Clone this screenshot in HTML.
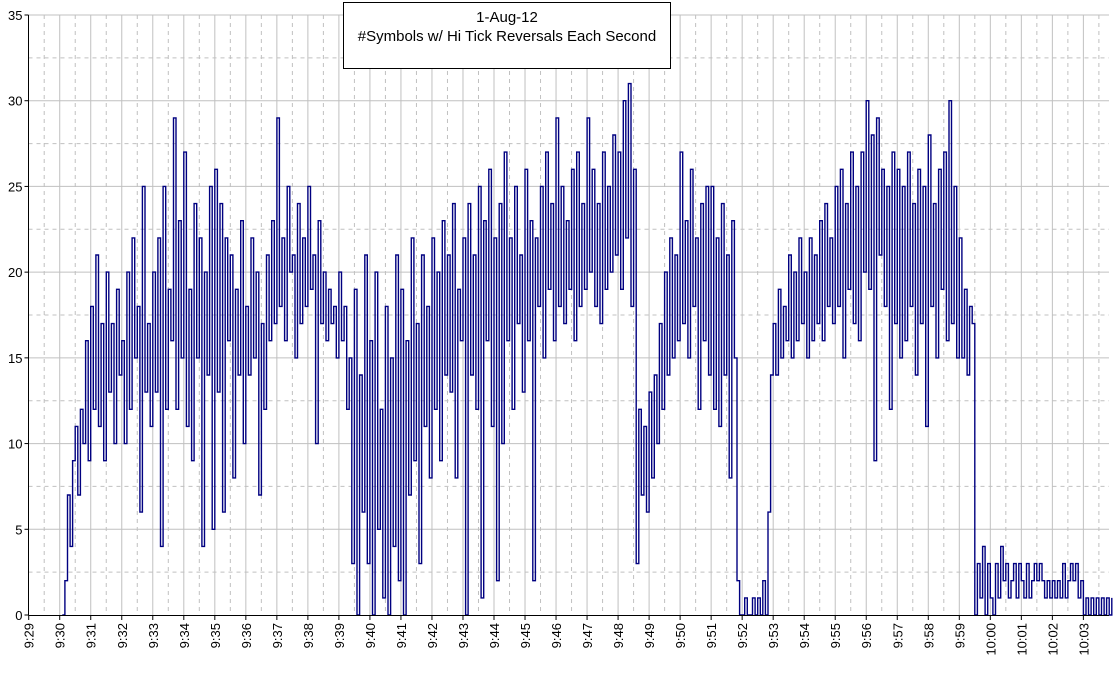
<!DOCTYPE html>
<html><head><meta charset="utf-8"><style>
body{margin:0;background:#fff;}
svg{display:block;font-family:"Liberation Sans",sans-serif;}
</style></head><body>
<svg id="chart" width="1116" height="675" viewBox="0 0 1116 675">
<g id="grid"></g>
<g id="series"></g>
<g id="axes"></g>
<g>
<rect x="343.5" y="2.5" width="327" height="66" fill="#fff" stroke="#000"/>
<text x="507" y="22" text-anchor="middle" font-size="15">1-Aug-12</text>
<text x="507" y="41" text-anchor="middle" font-size="15">#Symbols w/ Hi Tick Reversals Each Second</text>
</g>
</svg>
<script>
// values every 5 seconds starting at 9:30:00
const startMinute = 1; // minutes after 9:29
const stepSeconds = 5;
const values = [
null,0,2,7,4,9,11,7,12,10,16,9,
18,12,21,11,17,9,20,13,17,10,19,14,
16,10,20,12,22,15,18,6,25,13,17,11,
20,13,22,4,25,12,19,16,29,12,23,15,
27,11,19,9,24,15,22,4,20,14,25,5,
26,13,24,6,22,16,21,8,19,14,23,10,
18,14,22,15,20,7,17,12,21,16,23,17,
29,18,22,16,25,20,21,15,24,17,22,18,
25,19,21,10,23,17,20,16,19,17,18,15,
20,16,18,12,15,3,19,0,14,6,21,3,
16,0,20,5,12,1,18,0,15,4,21,2,
19,0,16,7,22,9,17,3,21,11,18,8,
22,12,20,9,23,14,21,13,24,8,19,16,
22,0,24,14,21,12,25,1,23,16,26,11,
22,2,24,10,27,16,22,12,25,17,21,13,
26,16,23,2,22,18,25,15,27,19,24,16,
29,18,25,17,23,19,26,16,27,18,24,19,
29,20,26,18,24,17,27,19,25,20,28,21,
27,19,30,22,31,18,26,3,12,7,11,6,
13,8,14,10,17,12,20,14,22,15,21,16,
27,17,23,15,26,18,22,12,24,16,25,14,
25,12,22,11,24,14,21,8,23,15,2,0,
0,1,0,0,1,0,1,0,2,0,6,14,
17,14,19,15,18,16,21,15,20,16,22,17,
20,15,22,16,21,17,23,16,24,18,22,17,
25,18,26,15,24,19,27,17,25,16,27,20,
30,19,28,9,29,21,26,18,25,12,27,17,
26,15,25,16,27,18,24,14,26,17,25,11,
28,18,24,15,26,19,27,16,30,17,25,15,
22,15,19,14,18,17,0,3,1,4,0,3,
1,0,3,1,4,2,3,1,2,3,1,3,
2,1,3,1,2,3,2,3,2,1,2,1,
2,1,2,1,3,1,2,3,2,3,1,2,
0,1,0,1,0,1,0,1,0,1,0,1
];
const xTickLabels = ["9:29","9:30","9:31","9:32","9:33","9:34","9:35","9:36","9:37","9:38","9:39","9:40","9:41","9:42","9:43","9:44","9:45","9:46","9:47","9:48","9:49","9:50","9:51","9:52","9:53","9:54","9:55","9:56","9:57","9:58","9:59","10:00","10:01","10:02","10:03"];
const yTickLabels = [0,5,10,15,20,25,30,35];

const NS="http://www.w3.org/2000/svg";
const L=28.5,R=1109,T=15,B=615;
const X=m=>28.7+31.02*m;
const Y=v=>B-(v/35)*(B-T);
function mk(tag,attrs,parent){const e=document.createElementNS(NS,tag);for(const k in attrs)e.setAttribute(k,attrs[k]);parent.appendChild(e);return e;}
const grid=document.getElementById('grid'),axes=document.getElementById('axes'),series=document.getElementById('series');
for(let v=2.5;v<=35;v+=2.5){
 const solid=(v%5===0);
 const l=mk('line',{x1:L,x2:R,y1:Y(v),y2:Y(v),stroke:'#c0c0c0','stroke-width':1,'stroke-dasharray':solid?'':'4,4'},grid);
 
 
}
for(let m=0.5;X(m)<R;m+=0.5){
 const solid=(m%1===0);
 const l=mk('line',{x1:X(m),x2:X(m),y1:T,y2:B,stroke:'#c0c0c0','stroke-width':1,'stroke-dasharray':solid?'':'4,4'},grid);
 
 
}
// step-style series
let d='';let first=true;
values.forEach((v,i)=>{ if(v===null)return; const x=X(startMinute+i*stepSeconds/60),y=Y(v);
 if(first){d+='M'+x.toFixed(1)+','+y.toFixed(1);first=false;}
 else{d+='H'+x.toFixed(1)+'V'+y.toFixed(1);} });
const p=mk('path',{d:d,fill:'none',stroke:'#000080','stroke-width':1.4},series);


mk('line',{x1:L,x2:L,y1:T,y2:B,stroke:'#000'},axes);
mk('line',{x1:L,x2:R,y1:B+0.5,y2:B+0.5,stroke:'#000'},axes);
yTickLabels.forEach(v=>{
 mk('line',{x1:L-4,x2:L,y1:Y(v),y2:Y(v),stroke:'#000'},axes);
 const t=mk('text',{x:L-6,y:Y(v)+5,'text-anchor':'end','font-size':13},axes);
 t.textContent=v;
 
 
});
xTickLabels.forEach((s,i)=>{
 const x=X(i);
 mk('line',{x1:x,x2:x,y1:B,y2:B+5,stroke:'#000'},axes);
 const t=mk('text',{x:0,y:0,'text-anchor':'end','font-size':13,transform:`translate(${x+5},${B+8}) rotate(-90)`},axes);
 t.textContent=s;
 
 
});
</script>
</body></html>
